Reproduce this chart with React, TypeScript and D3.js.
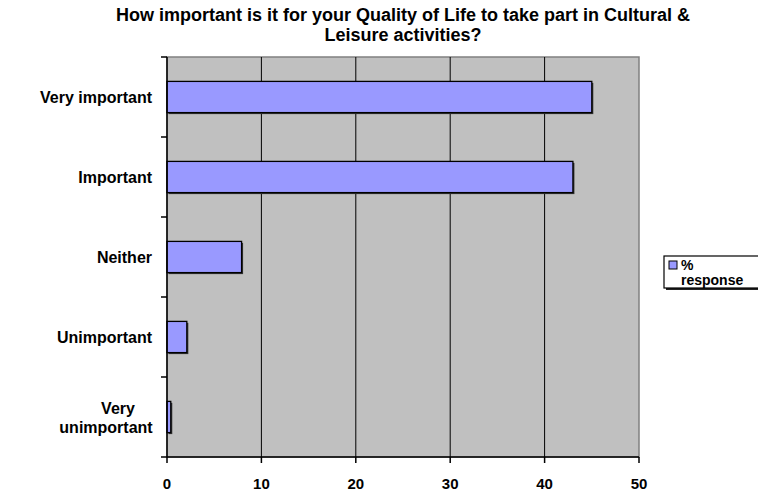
import React from 'react'
import * as d3 from 'd3'

const categories = ['Very important', 'Important', 'Neither', 'Unimportant', 'Very unimportant']
const values = [45, 43, 7.9, 2.1, 0.4]
const xTicks = [0, 10, 20, 30, 40, 50]
const seriesName = ['%', 'response']
const title = ['How important is it for your Quality of Life to take part in Cultural &', 'Leisure activities?']

export default function App() {
  const width = 758
  const height = 491
  const plot = { left: 167, right: 639, top: 57, bottom: 457 }
  const font = 'Arial, "Liberation Sans", sans-serif'

  const x = d3.scaleLinear().domain([0, 50]).range([plot.left, plot.right])
  const y = d3.scaleBand().domain(categories).range([plot.top, plot.bottom])
  const barH = y.bandwidth() * 0.39
  const cx = (plot.left + plot.right) / 2

  return (
    <svg width={width} height={height} style={{ position: 'absolute', left: 0, top: 0 }} fontFamily={font} fontWeight="bold">
      <rect x={0} y={0} width={width} height={height} fill="#fff" />
      {/* title */}
      {title.map((t, i) => (
        <text key={i} x={cx} y={21 + i * 20} textAnchor="middle" fontSize={18}>{t}</text>
      ))}
      {/* plot area */}
      <rect x={plot.left} y={plot.top} width={plot.right - plot.left} height={plot.bottom - plot.top} fill="#c0c0c0" stroke="#808080" strokeWidth={1.5} />
      {xTicks.slice(1, -1).map(t => (
        <line key={t} x1={x(t)} x2={x(t)} y1={plot.top} y2={plot.bottom} stroke="#000" strokeWidth={1} />
      ))}
      {/* bars */}
      {categories.map((c, i) => {
        const by = (y(c) as number) + (y.bandwidth() - barH) / 2
        return (
          <g key={c}>
            <rect x={x(0) + 1.5} y={by + 1.5} width={x(values[i]) - x(0)} height={barH} fill="#333" />
            <rect x={x(0)} y={by} width={x(values[i]) - x(0)} height={barH} fill="#9999ff" stroke="#000" strokeWidth={1.3} />
          </g>
        )
      })}
      {/* axes */}
      <line x1={plot.left} x2={plot.left} y1={plot.top} y2={plot.bottom} stroke="#000" strokeWidth={1.5} />
      <line x1={plot.left} x2={plot.right} y1={plot.bottom} y2={plot.bottom} stroke="#000" strokeWidth={1.5} />
      {categories.map(c => (
        <line key={c} x1={plot.left - 6} x2={plot.left} y1={y(c)} y2={y(c)} stroke="#000" strokeWidth={1.5} />
      ))}
      <line x1={plot.left - 6} x2={plot.left} y1={plot.bottom} y2={plot.bottom} stroke="#000" strokeWidth={1.5} />
      {xTicks.map(t => (
        <g key={t}>
          <line x1={x(t)} x2={x(t)} y1={plot.bottom} y2={plot.bottom + 6} stroke="#000" strokeWidth={1.5} />
          <text x={x(t)} y={plot.bottom + 32} textAnchor="middle" fontSize={15}>{t}</text>
        </g>
      ))}
      {categories.map(c => {
        const mid = (y(c) as number) + y.bandwidth() / 2
        const words = c === 'Very unimportant' ? ['Very', 'unimportant'] : [c]
        if (words.length === 1) {
          return <text key={c} x={152} y={mid + 6} textAnchor="end" fontSize={16}>{c}</text>
        }
        return (
          <text key={c} textAnchor="middle" fontSize={16}>
            <tspan x={118} y={mid - 3}>{words[0]}</tspan>
            <tspan x={106} y={mid + 16}>{words[1]}</tspan>
          </text>
        )
      })}
      {/* legend */}
      <rect x={666} y={258} width={100} height={32} fill="#222" />
      <rect x={664} y={256} width={100} height={32} fill="#fff" stroke="#000" strokeWidth={1.2} />
      <rect x={669} y={261} width={8} height={8} fill="#9999ff" stroke="#000" strokeWidth={1} />
      <text fontSize={14}>
        <tspan x={681} y={270}>{seriesName[0]}</tspan>
        <tspan x={681} y={285}>{seriesName[1]}</tspan>
      </text>
    </svg>
  )
}
